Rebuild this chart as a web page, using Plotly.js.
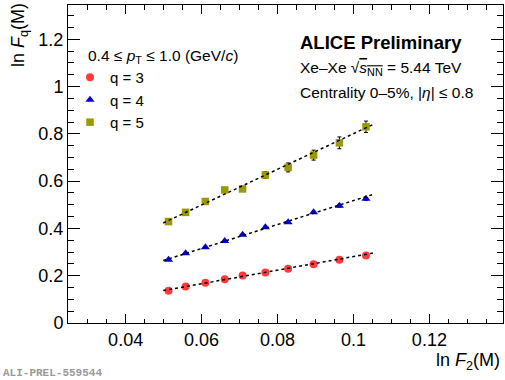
<!DOCTYPE html>
<html>
<head>
<meta charset="utf-8">
<script src="https://cdn.plot.ly/plotly-3.0.1.min.js"></script>
<style>html,body{margin:0;padding:0;background:#fff;}#chart{width:505px;height:380px;}</style>
</head>
<body>
<div id="chart"></div>
<script>
// ln F2(M) values (shared by all q)
const lnF2 = [0.0513, 0.0558, 0.0610, 0.0661, 0.0708, 0.0768, 0.0828, 0.0895, 0.0963, 0.1033];
// ln Fq(M)
const lnF3 = [0.136, 0.154, 0.170, 0.185, 0.201, 0.214, 0.229, 0.248, 0.267, 0.285];
const lnF4 = [0.268, 0.295, 0.320, 0.347, 0.373, 0.405, 0.426, 0.468, 0.496, 0.525];
const lnF5 = [0.429, 0.468, 0.514, 0.563, 0.567, 0.626, 0.658, 0.710, 0.762, 0.830];
// uncertainties
const err3 = [0.001, 0.001, 0.001, 0.001, 0.001, 0.002, 0.002, 0.002, 0.003, 0.003];
const err4 = [0.002, 0.002, 0.002, 0.003, 0.003, 0.004, 0.004, 0.005, 0.006, 0.006];
const err5 = [0.004, 0.005, 0.006, 0.008, 0.010, 0.014, 0.019, 0.021, 0.025, 0.024];
// linear fit lines (end points)
const fitX = [0.0499, 0.1056];
const fit3 = [0.137, 0.297];
const fit4 = [0.264, 0.546];
const fit5 = [0.423, 0.843];
const seriesNames = ['q = 3', 'q = 4', 'q = 5'];

const FONT = 'Liberation Sans, Arial, Helvetica, sans-serif';
const L = 68, R = 503, T = 5, B = 323.5;
const px2x = p => (p - L) / (R - L);
const py2y = p => (B - p) / (B - T);

const errStyle = arr => ({type: 'data', array: arr, visible: true, color: '#000', thickness: 1, width: 2});

const traces = [
  {x: lnF2, y: lnF3, name: seriesNames[0], mode: 'markers', type: 'scatter',
   marker: {symbol: 'circle', size: 8, color: '#ff3c3c'}, error_y: errStyle(err3)},
  {x: lnF2, y: lnF4, name: seriesNames[1], mode: 'markers', type: 'scatter',
   marker: {symbol: 'triangle-up', size: 8, color: '#0000d8'}, error_y: errStyle(err4)},
  {x: lnF2, y: lnF5, name: seriesNames[2], mode: 'markers', type: 'scatter',
   marker: {symbol: 'square', size: 7.5, color: '#999900'}, error_y: errStyle(err5)},
  {x: fitX, y: fit3, mode: 'lines', type: 'scatter', showlegend: false, hoverinfo: 'skip',
   line: {color: '#000', width: 1.5, dash: '3px,3px'}},
  {x: fitX, y: fit4, mode: 'lines', type: 'scatter', showlegend: false, hoverinfo: 'skip',
   line: {color: '#000', width: 1.5, dash: '3px,3px'}},
  {x: fitX, y: fit5, mode: 'lines', type: 'scatter', showlegend: false, hoverinfo: 'skip',
   line: {color: '#000', width: 1.5, dash: '3px,3px'}}
];

const axisCommon = {
  showline: true, linecolor: '#000', linewidth: 1, mirror: 'ticks',
  ticks: 'inside', tickcolor: '#000', tickwidth: 1,
  showgrid: false, zeroline: false,
  tickfont: {family: FONT, size: 18, color: '#000'}
};

const layout = {
  width: 505, height: 380,
  margin: {l: L, r: 505 - R, t: T, b: 380 - B},
  paper_bgcolor: '#fff', plot_bgcolor: '#fff',
  font: {family: FONT, color: '#000'},
  xaxis: Object.assign({}, axisCommon, {
    range: [0.02482, 0.13939], tick0: 0, dtick: 0.02, ticklen: 9,
    minor: {dtick: 0.005, ticks: 'inside', ticklen: 4.5, tickcolor: '#000', tickwidth: 1}
  }),
  yaxis: Object.assign({}, axisCommon, {
    range: [0, 1.345], tick0: 0, dtick: 0.2, ticklen: 12,
    minor: {dtick: 0.05, ticks: 'inside', ticklen: 6, tickcolor: '#000', tickwidth: 1}
  }),
  showlegend: true,
  legend: {
    x: px2x(70), y: py2y(61), xanchor: 'left', yanchor: 'top',
    bgcolor: 'rgba(0,0,0,0)', borderwidth: 0,
    font: {family: FONT, size: 15, color: '#000'}, tracegroupgap: 0
  },
  annotations: [
    {xref: 'paper', yref: 'paper', x: px2x(19), y: py2y(1), xanchor: 'center', yanchor: 'top',
     textangle: -90, showarrow: false, text: 'ln <i>F</i><sub>q</sub>(M)',
     font: {family: FONT, size: 18, color: '#000'}},
    {xref: 'paper', yref: 'paper', x: px2x(502), y: py2y(362), xanchor: 'right', yanchor: 'middle',
     showarrow: false, text: 'ln <i>F</i><sub>2</sub>(M)',
     font: {family: FONT, size: 18, color: '#000'}},
    {xref: 'paper', yref: 'paper', x: px2x(86), y: py2y(57), xanchor: 'left', yanchor: 'middle',
     showarrow: false, text: '0.4 ≤ <i>p</i><sub>T</sub> ≤ 1.0 (GeV/<i>c</i>)',
     font: {family: FONT, size: 15.5, color: '#000'}},
    {xref: 'paper', yref: 'paper', x: px2x(298), y: py2y(43), xanchor: 'left', yanchor: 'middle',
     showarrow: false, text: '<b>ALICE Preliminary</b>',
     font: {family: FONT, size: 18.5, color: '#000'}},
    {xref: 'paper', yref: 'paper', x: px2x(298), y: py2y(69), xanchor: 'left', yanchor: 'middle',
     showarrow: false, text: 'Xe–Xe √<span style="text-decoration:overline"><i>s</i><sub>NN</sub></span> = 5.44 TeV',
     font: {family: FONT, size: 15.5, color: '#000'}},
    {xref: 'paper', yref: 'paper', x: px2x(298), y: py2y(93), xanchor: 'left', yanchor: 'middle',
     showarrow: false, text: 'Centrality 0–5%, |<i>η</i>| ≤ 0.8',
     font: {family: FONT, size: 15.5, color: '#000'}},
    {xref: 'paper', yref: 'paper', x: px2x(1), y: py2y(374), xanchor: 'left', yanchor: 'middle',
     showarrow: false, text: '<b>ALI-PREL-559544</b>',
     font: {family: 'Liberation Mono, DejaVu Sans Mono, monospace', size: 11, color: '#9a9a9a'}}
  ]
};

Plotly.newPlot('chart', traces, layout, {displayModeBar: false, staticPlot: true});
</script>
</body>
</html>
